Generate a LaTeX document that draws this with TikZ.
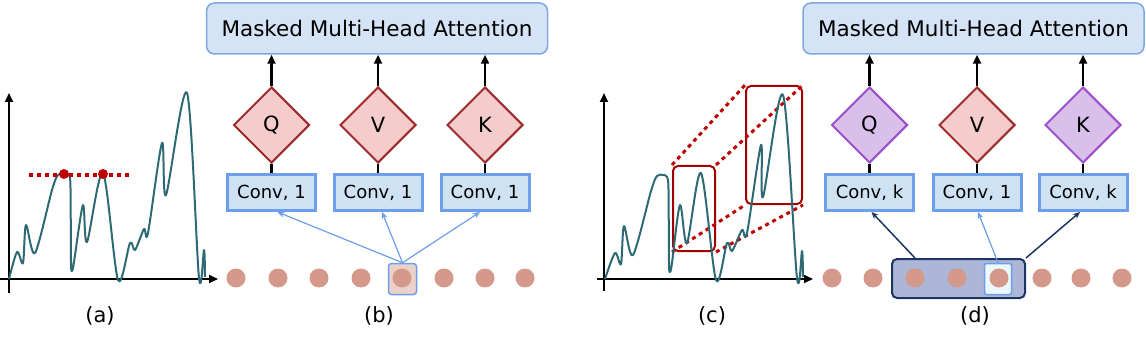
\documentclass[tikz,border=0pt]{standalone}
\usepackage{fontspec}
\setmainfont{DejaVu Sans}
\usetikzlibrary{arrows.meta,shapes.geometric,positioning}

\definecolor{attnfill}{HTML}{D5E3F6}
\definecolor{attnline}{HTML}{7EA7E3}
\definecolor{convfill}{HTML}{CFE2F3}
\definecolor{convline}{HTML}{6D9EEB}
\definecolor{pinkfill}{HTML}{F4CCCC}
\definecolor{pinkline}{HTML}{9C2B2B}
\definecolor{lilacfill}{HTML}{D8C0EA}
\definecolor{lilacline}{HTML}{9B4FC8}
\definecolor{curvecol}{HTML}{2D6A74}
\definecolor{beadcol}{HTML}{D4998A}
\definecolor{marker}{HTML}{C00000}
\definecolor{winfill}{HTML}{ACB6D6}
\definecolor{winline}{HTML}{1C3564}

\begin{document}
\begin{tikzpicture}[x=1pt,y=-1pt,
    attn/.style={draw=attnline, fill=attnfill, line width=1.5pt, rounded corners=8pt,
      minimum width=341pt, minimum height=51pt, font=\fontsize{21.5}{24}\selectfont},
    conv/.style={draw=convline, fill=convfill, line width=3pt, inner sep=0pt,
      minimum width=88pt, minimum height=36pt, font=\fontsize{18}{20}\selectfont},
    head/.style={diamond, aspect=1, draw=pinkline, fill=pinkfill, line width=2pt,
      inner sep=0pt, minimum width=76pt, minimum height=76pt, font=\fontsize{21}{24}\selectfont},
    lilac/.style={head, draw=lilacline, fill=lilacfill},
    bead/.style={circle, fill=beadcol, inner sep=0pt, minimum size=19pt},
    up/.style={line width=2.5pt, -{Triangle[length=9pt,width=8pt]}},
    stem/.style={line width=2.5pt},
    feed/.style={draw=convline, line width=1.2pt, -{Stealth[length=7pt,width=6pt]}},
    navy/.style={draw=winline, line width=1.5pt, -{Stealth[length=7pt,width=6pt]}},
    axis/.style={line width=2pt, -{Triangle[length=9pt,width=8pt]}},
    signal/.style={draw=curvecol, line width=2pt, line join=round},
    dots/.style={draw=marker, line width=3.5pt, dash pattern=on 4pt off 4pt},
    zoombox/.style={draw=marker!85!black, line width=2pt, rounded corners=5pt},
    lab/.style={font=\fontsize{21}{24}\selectfont}]
  \useasboundingbox (0,0) rectangle (1146,342);

  % (a) repeated peaks
  \draw[axis] (9,293) -- (9,93);
  \draw[axis] (0,279) -- (218,279);
  \draw[signal] plot[smooth, tension=0.5] coordinates {(9,279) (17,252) (23,263) (26,225) (35,253) (52,190) (58,175) (64,173) (69,175) (70.5,188) (71,262) (72,271) (74,262) (83,205) (87,242) (103,173) (118,280) (130,243) (135,250) (144,229) (148,233) (162,143) (166,195) (187,93) (199,278) (204,250) (205,277)};
  \draw[dots] (29,175) -- (129,175);
  \node[circle, fill=marker, inner sep=0pt, minimum size=10pt] (pk1) at (64,174) {};
  \node[circle, fill=marker, inner sep=0pt, minimum size=10pt] (pk2) at (103,174) {};
  \node[lab] (labA) at (100,316) {(a)};

  % (b) pointwise convolution
  \node[attn] (attnB) at (377,28.5) {Masked Multi-Head Attention};
  \node[head] (qB) at (271.5,125) {Q};
  \node[head] (vB) at (378,125) {V};
  \node[head] (kB) at (485,125) {K};
  \node[conv] (cqB) at (271.5,192.5) {Conv, 1};
  \node[conv] (cvB) at (378,192.5) {Conv, 1};
  \node[conv] (ckB) at (485,192.5) {Conv, 1};
  \foreach \h in {qB,vB,kB} {
    \draw[up] (\h.north) -- (\h.north |- attnB.south);
  }
  \draw[stem] (qB.south) -- (cqB.north);
  \draw[stem] (vB.south) -- (cvB.north);
  \draw[stem] (kB.south) -- (ckB.north);
  \node[draw=convline, fill=beadcol!45, line width=1.5pt, rounded corners=3pt,
    minimum width=28pt, minimum height=31pt] (selB) at (402.5,279) {};
  \foreach \x [count=\i] in {236,278,319,361,402,444,485,525}
    \node[bead] (dB\i) at (\x,278) {};
  \draw[feed] (selB.north) -- ([xshift=6pt]cqB.south);
  \draw[feed] (selB.north) -- ([xshift=4pt]cvB.south);
  \draw[feed] (selB.north) -- ([xshift=-5pt]ckB.south);
  \node[lab] (labB) at (379,316) {(b)};

  % (c) similar shapes at different scales
  \node[zoombox, minimum width=42pt, minimum height=85pt] (small) at (694,208.5) {};
  \node[zoombox, minimum width=56pt, minimum height=118pt] (big) at (774,145) {};
  \draw[dots, line width=3pt] (small.north west) -- (big.north west);
  \draw[dots, line width=3pt] (small.north east) -- (big.north east);
  \draw[dots, line width=3pt] (small.south west) -- (big.south west);
  \draw[dots, line width=3pt] (small.south east) -- (big.south east);
  \draw[axis] (604,291) -- (604,93);
  \draw[axis] (597,279) -- (813,279);
  \draw[signal] plot[smooth, tension=0.5] coordinates {(605,279) (615,253) (621,264) (624,226) (633,255) (651,191) (657,176) (663,175) (667,177) (668.5,190) (669,263) (670,272) (672,263) (680,205) (687,243) (701,173) (716,280) (727,243) (732,251) (742,230) (747,233) (761,145) (763,197) (783,95) (797,278) (802,251) (803,277)};
  \node[lab] (labC) at (712,316) {(c)};

  % (d) causal convolution of width k
  \node[attn] (attnD) at (973.5,28.5) {Masked Multi-Head Attention};
  \node[lilac] (qD) at (869.5,125) {Q};
  \node[head] (vD) at (977,125) {V};
  \node[lilac] (kD) at (1083,125) {K};
  \node[conv] (cqD) at (869.5,192.5) {Conv, k};
  \node[conv] (cvD) at (977,192.5) {Conv, 1};
  \node[conv] (ckD) at (1083,192.5) {Conv, k};
  \foreach \h in {qD,vD,kD} {
    \draw[up] (\h.north) -- (\h.north |- attnD.south);
  }
  \draw[stem] (qD.south) -- (cqD.north);
  \draw[stem] (vD.south) -- (cvD.north);
  \draw[stem] (kD.south) -- (ckD.north);
  \node[draw=winline, fill=winfill, line width=2pt, rounded corners=5pt,
    minimum width=133pt, minimum height=39pt] (winD) at (958.5,278.5) {};
  \node[draw=convline, fill=cyan!8, line width=1.5pt, rounded corners=2pt,
    minimum width=27pt, minimum height=31pt] (selD) at (998,279) {};
  \foreach \x [count=\i] in {832,873,915,957,999,1042,1081,1122}
    \node[bead] (dD\i) at (\x,278) {};
  \draw[navy] (winD.north -| dD3) -- ([xshift=2pt]cqD.south);
  \draw[feed] (selD.north) -- ([xshift=1pt]cvD.south);
  \draw[navy] (winD.north east) -- ([xshift=-3pt]ckD.south);
  \node[lab] (labD) at (975,316) {(d)};
\end{tikzpicture}
\end{document}
